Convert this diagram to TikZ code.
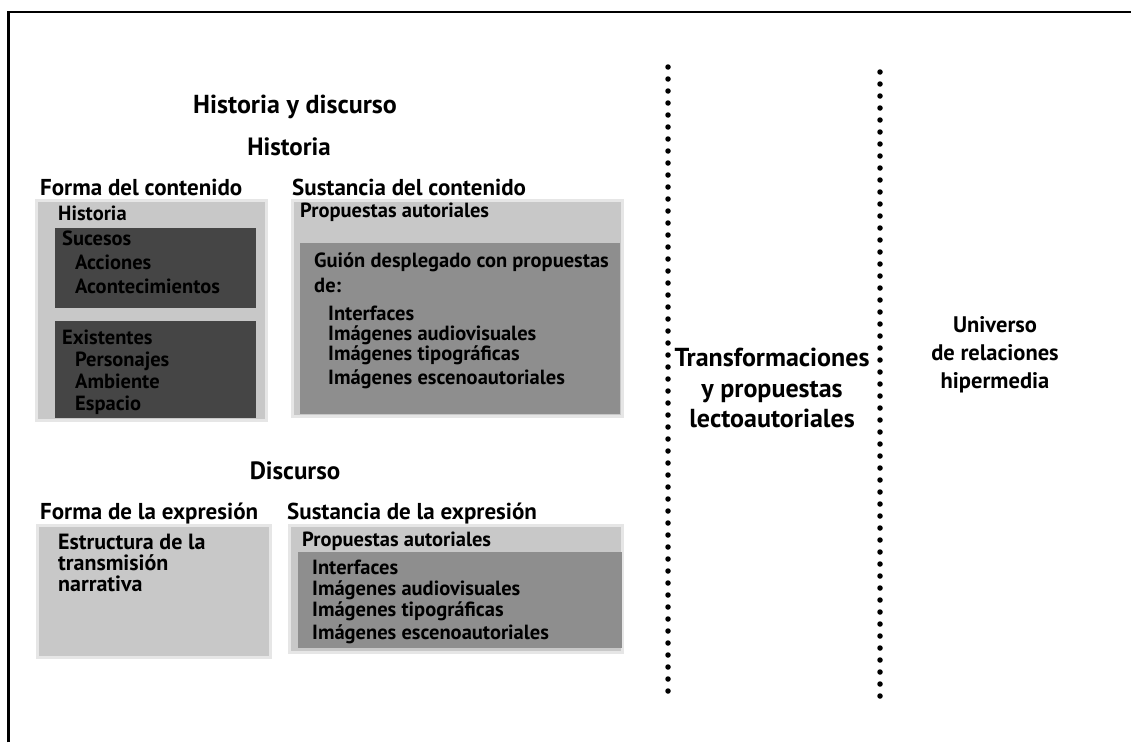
\documentclass[tikz,border=0pt]{standalone}
\usepackage{fontspec}
\setmainfont{PT Sans}
\definecolor{halo}{HTML}{E6E6E6}
\definecolor{lightbox}{HTML}{C8C8C8}
\definecolor{midbox}{HTML}{8E8E8E}
\definecolor{darkbox}{HTML}{454545}
\begin{document}
\begin{tikzpicture}[x=1pt,y=-1pt,
  title/.style={font=\bfseries\fontsize{26}{31}\selectfont, anchor=base, inner sep=0},
  sub/.style={font=\bfseries\fontsize{25}{30}\selectfont, anchor=base, inner sep=0},
  head/.style={font=\bfseries\fontsize{23}{27}\selectfont, anchor=base west, inner sep=0},
  item/.style={font=\bfseries\fontsize{20.5}{24}\selectfont, anchor=base west, inner sep=0},
  itembig/.style={item, font=\bfseries\fontsize{22}{26}\selectfont},
  sidea/.style={font=\bfseries\fontsize{26}{30.5}\selectfont, align=center, anchor=center, inner sep=0},
  sideb/.style={font=\bfseries\fontsize{22.5}{28}\selectfont, align=center, anchor=center, inner sep=0},
  dotline/.style={line width=5.5pt, line cap=round, dash pattern=on 0pt off 12pt},
  shade/.style={draw=halo, line width=3pt},
]
\useasboundingbox (0,0) rectangle (1131,742);

% open frame: top rule and left rule
\draw[line width=2pt] (8,742) -- (8,12) -- (1131,12);
\draw[line width=3pt] (8.5,742) -- (8.5,12);

% shaded panels behind the four blocks
\fill[lightbox, shade] (36,200) rectangle (266,420);
\fill[darkbox] (55,228) rectangle (256,308);
\fill[darkbox] (55,321) rectangle (256,418);
\fill[lightbox, shade] (292,200) rectangle (622,416);
\fill[midbox] (300,243) rectangle (620,414);
\fill[lightbox, shade] (37,525) rectangle (270,657);
\fill[lightbox, shade] (289,525) rectangle (622,652);
\fill[midbox] (298,552) rectangle (622,648);

% headings
\node[title] (ttl) at (295,113) {Historia y discurso};
\node[sub] (hist) at (289,155) {Historia};
\node[head] (fc) at (40,195) {Forma del contenido};
\node[head] (sc) at (292,195) {Sustancia del contenido};
\node[sub] (disc) at (295,479) {Discurso};
\node[head] (fe) at (40,519) {Forma de la expresión};
\node[head] (se) at (287,519) {Sustancia de la expresión};

% forma del contenido
\node[item] (h1) at (58,220) {Historia};
\node[item] (h2) at (62,245) {Sucesos};
\node[item] (h3) at (75,269) {Acciones};
\node[item] (h4) at (75,293) {Acontecimientos};
\node[item] (h5) at (62,344) {Existentes};
\node[item] (h6) at (75,366) {Personajes};
\node[item] (h7) at (75,388) {Ambiente};
\node[item] (h8) at (75,410) {Espacio};

% sustancia del contenido
\node[item] (p0) at (300,217) {Propuestas autoriales};
\node[item] (p1) at (314,267) {Guión desplegado con propuestas};
\node[item] (p2) at (314,292) {de:};
\node[item] (p3) at (328,320) {Interfaces};
\node[item] (p4) at (328,340) {Imágenes audiovisuales};
\node[item] (p5) at (328,360) {Imágenes tipográficas};
\node[item] (p6) at (328,384) {Imágenes escenoautoriales};

% forma de la expresión
\node[itembig] (e1) at (58,549) {Estructura de la};
\node[itembig] (e2) at (58,570) {transmisión};
\node[itembig] (e3) at (58,591) {narrativa};

% sustancia de la expresión
\node[item] (q0) at (302,546) {Propuestas autoriales};
\node[item] (q1) at (312,574) {Interfaces};
\node[item] (q2) at (312,595) {Imágenes audiovisuales};
\node[item] (q3) at (312,616) {Imágenes tipográficas};
\node[item] (q4) at (312,639) {Imágenes escenoautoriales};

% dotted separators
\coordinate (s1a) at (668,67);
\coordinate (s1b) at (668,692);
\coordinate (s2a) at (880,72);
\coordinate (s2b) at (880,697);
\draw[dotline] (s1a) -- (s1b);
\draw[dotline] (s2a) -- (s2b);

% right-hand columns
\node[sidea] (tr) at (772,388) {Transformaciones\\y propuestas\\lectoautoriales};
\node[sideb] (uni) at (995,355) {Universo\\de relaciones\\hipermedia};
\end{tikzpicture}
\end{document}
